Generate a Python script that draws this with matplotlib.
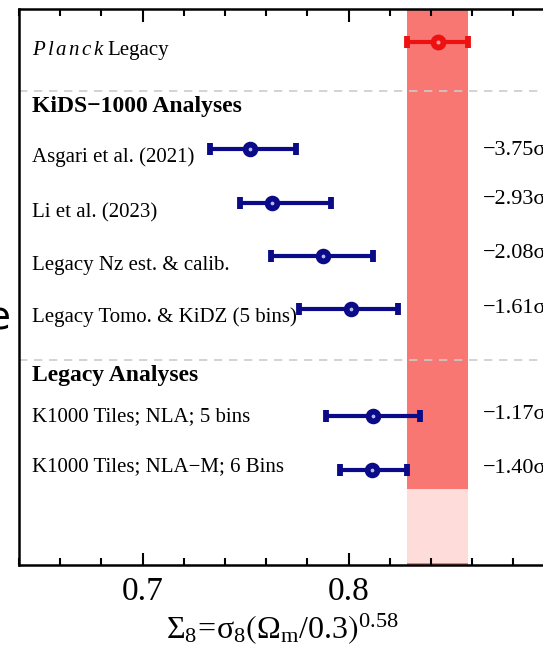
import matplotlib
matplotlib.use("Agg")
import matplotlib.pyplot as plt
from matplotlib.ticker import MultipleLocator, FuncFormatter

plt.rcParams['font.family'] = ['Liberation Serif', 'DejaVu Serif']
plt.rcParams['mathtext.fontset'] = 'custom'
plt.rcParams['mathtext.rm'] = 'Liberation Serif'
plt.rcParams['mathtext.it'] = 'Liberation Serif:italic'
plt.rcParams['mathtext.bf'] = 'Liberation Serif:bold'
plt.rcParams['mathtext.fallback'] = 'stix'

# ---- data ----
labels = ["Asgari et al. (2021)", "Li et al. (2023)", "Legacy Nz est. & calib.",
          "Legacy Tomo. & KiDZ (5 bins)", "K1000 Tiles; NLA; 5 bins",
          "K1000 Tiles; NLA−M; 6 Bins"]
sigma8 = [0.752, 0.763, 0.7875, 0.8013, 0.8117, 0.8112]
err_lo = [0.0195, 0.0156, 0.0254, 0.0254, 0.0229, 0.0156]
err_hi = [0.0225, 0.0286, 0.0245, 0.0227, 0.0228, 0.0173]
tensions = ["−3.75σ", "−2.93σ", "−2.08σ", "−1.61σ", "−1.17σ", "−1.40σ"]
rows = [2, 3, 4, 5, 7, 8]
label_rows = [2.16, 3.19, 4.17, 5.15, 7.01, 7.93]
tension_rows = [2.02, 2.95, 3.96, 4.99, 6.97, 7.98]

planck_val = 0.8432
planck_err = 0.0148
planck_row = 0
headers = ["KiDS−1000 Analyses", "Legacy Analyses"]
header_rows = [1.2, 6.23]
sep_rows = [0.92, 5.95]

navy = '#0b0b8a'
red = '#ee1111'

fig = plt.figure(figsize=(5.43, 6.51), dpi=100)
xmin, xmax = 0.64, 0.8958
ax = fig.add_axes([19/543, 1-565/651, (xmax-xmin)*2060/543, (565-9)/651])

ax.set_xlim(xmin, xmax)
ax.set_ylim(9.776, -0.617)

# Planck band
ax.axvspan(planck_val - planck_err, planck_val + planck_err, color='#fddcd9', zorder=0, lw=0)
ax.fill_betweenx([-0.617, 8.35], planck_val - planck_err, planck_val + planck_err,
                 color='#f87772', zorder=0.5, lw=0)
ax.fill_betweenx([9.73, 9.776], planck_val - planck_err, planck_val + planck_err,
                 color='#f87772', zorder=0.5, lw=0)

for r in sep_rows:
    ax.axhline(r, color='#cccccc', ls=(0, (5, 4)), lw=1.2, zorder=1)

# Planck point
ax.errorbar([planck_val], [planck_row], xerr=[[planck_err], [planck_err]], fmt='o',
            color=red, ms=7.2, mfc='#ff9a9a', mec=red, mew=4.2, elinewidth=3,
            capsize=4.5, capthick=3, zorder=3)

ax.errorbar(sigma8, rows, xerr=[err_lo, err_hi], fmt='o', color=navy, ms=7.0,
            mfc='#b8b8e8', mec=navy, mew=4.2, elinewidth=3, capsize=4,
            capthick=3, zorder=3)

tx = 0.6463
ax.text(tx, 0.15, r"$\mathit{P\,l\,a\,n\,c\,k}$", fontsize=15, va='center', ha='left')
ax.text(0.6827, 0.15, "Legacy", fontsize=15, va='center', ha='left')
for lab, r in zip(labels, label_rows):
    ax.text(tx, r, lab, fontsize=15, va='center', ha='left')
for h, r in zip(headers, header_rows):
    ax.text(tx, r, h, fontsize=17, fontweight='bold', va='center', ha='left')
for t, r in zip(tensions, tension_rows):
    ax.text(0.8652, r, t, fontsize=16, va='center', ha='left')

ax.xaxis.set_major_locator(MultipleLocator(0.1))
ax.xaxis.set_minor_locator(MultipleLocator(0.02))
ax.tick_params(axis='x', which='both', direction='in', top=True, bottom=True,
               labelsize=24, width=1.5, pad=8)
ax.tick_params(axis='x', which='major', length=9)
ax.tick_params(axis='x', which='minor', length=5)
ax.set_yticks([])
ax.xaxis.set_major_formatter(FuncFormatter(lambda v, p: f"{v:.1f}"))
for s in ax.spines.values():
    s.set_linewidth(1.8)

ax.set_xlabel(r"$\mathrm{Σ_8\!=\!σ_8\left(Ω_m/0.3\right)^{0.58}}$", fontsize=23, labelpad=3)

fig.text(11/543, 1-318/651, "e", fontsize=28, ha='right', va='center', family='DejaVu Sans')

fig.savefig("out.png", dpi=100)
